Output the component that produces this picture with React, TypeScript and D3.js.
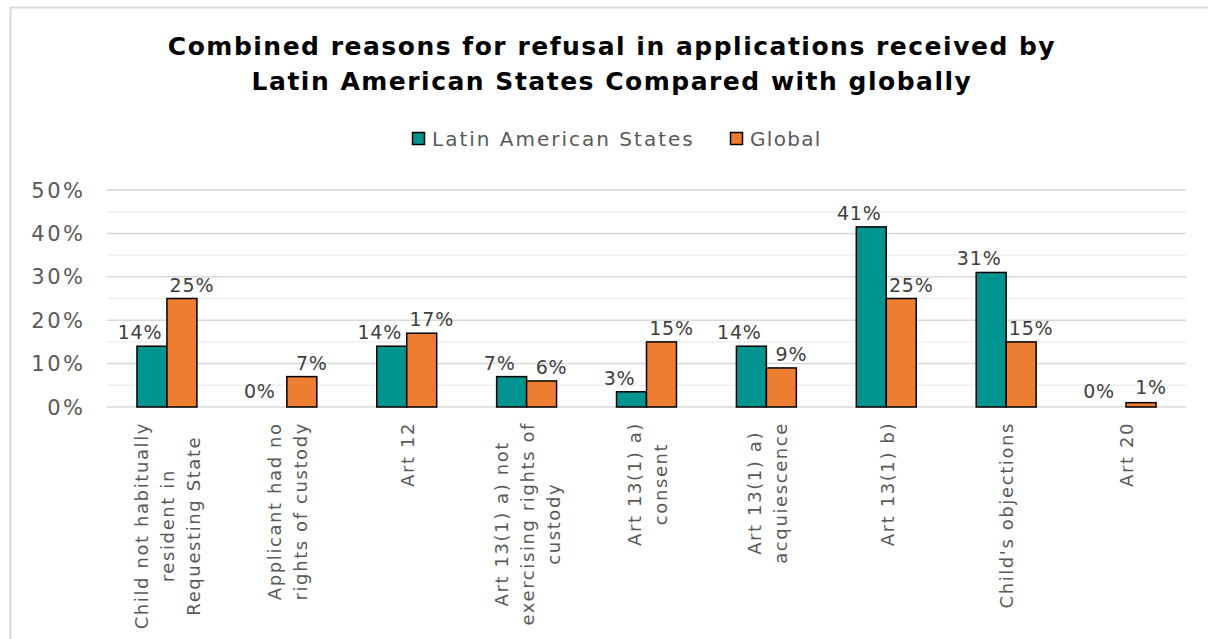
import React, { useEffect, useRef } from "react";
import * as d3 from "d3";

const categories = [
  "Child not habitually\nresident in\nRequesting State",
  "Applicant had no\nrights of custody",
  "Art 12",
  "Art 13(1) a) not\nexercising rights of\ncustody",
  "Art 13(1) a)\nconsent",
  "Art 13(1) a)\nacquiescence",
  "Art 13(1) b)",
  "Child's objections",
  "Art 20",
];
const latinAmerica = [0.14, 0, 0.14, 0.07, 0.035, 0.14, 0.415, 0.31, 0];
const latinLabels = ["14%", "0%", "14%", "7%", "3%", "14%", "41%", "31%", "0%"];
const globalValues = [0.25, 0.07, 0.17, 0.06, 0.15, 0.09, 0.25, 0.15, 0.01];
const globalLabels = ["25%", "7%", "17%", "6%", "15%", "9%", "25%", "15%", "1%"];
const seriesNames = ["Latin American States", "Global"];
const seriesColors = ["#009490", "#ED7D31"];
const majorTicks = [0, 0.1, 0.2, 0.3, 0.4, 0.5];
const minorTicks = [0.05, 0.15, 0.25, 0.35, 0.45];
const titleLines = [
  "Combined reasons for refusal in applications received by",
  "Latin American States Compared with globally",
];

const W = 1208;
const H = 639;
const FONT = "'DejaVu Sans', Verdana, sans-serif";

export default function App() {
  const ref = useRef<SVGSVGElement>(null);

  useEffect(() => {
    const svg = d3.select(ref.current);
    svg.selectAll("*").remove();

    const x0 = 107, x1 = 1186, yTop = 190, yBot = 407;
    const x = d3.scaleBand<number>().domain(d3.range(categories.length)).range([x0, x1]).paddingInner(0.5).paddingOuter(0.25);
    const xs = d3.scaleBand<number>().domain([0, 1]).range([0, x.bandwidth()]);
    const y = d3.scaleLinear().domain([0, 0.5]).range([yBot, yTop]);

    svg.append("rect").attr("x", 0).attr("y", 0).attr("width", W).attr("height", H).attr("fill", "#fff");
    svg.append("rect").attr("x", 10.5).attr("y", 7.5).attr("width", W + 20).attr("height", H + 20)
      .attr("fill", "none").attr("stroke", "#d9d9d9").attr("stroke-width", 2);

    // title
    svg.append("g").selectAll("text").data(titleLines).join("text")
      .attr("x", 612).attr("y", (_, i) => 55 + i * 35)
      .attr("text-anchor", "middle").attr("font-family", FONT).attr("font-weight", "bold")
      .attr("font-size", 25).attr("letter-spacing", 1.5).attr("fill", "#000").text(d => d);

    // legend
    const legendX = [412, 730];
    seriesNames.forEach((name, i) => {
      svg.append("rect").attr("x", legendX[i] + 0.5).attr("y", 132.5).attr("width", 12).attr("height", 12)
        .attr("fill", seriesColors[i]).attr("stroke", "#000").attr("stroke-width", 1.5);
      svg.append("text").attr("x", legendX[i] + 20).attr("y", 146)
        .attr("font-family", FONT).attr("font-size", 20).attr("letter-spacing", i === 0 ? 2.0 : 1.3)
        .attr("fill", "#595959").text(name);
    });

    // grid
    svg.append("g").selectAll("line.minor").data(minorTicks).join("line")
      .attr("x1", x0).attr("x2", x1).attr("y1", d => y(d)).attr("y2", d => y(d))
      .attr("stroke", "#efefef").attr("stroke-width", 1.5);
    svg.append("g").selectAll("line.major").data(majorTicks).join("line")
      .attr("x1", x0).attr("x2", x1).attr("y1", d => y(d)).attr("y2", d => y(d))
      .attr("stroke", "#d9d9d9").attr("stroke-width", 1.5);

    // y tick labels
    svg.append("g").selectAll("text").data(majorTicks).join("text")
      .attr("x", 85.5).attr("y", d => y(d)).attr("dy", "0.36em").attr("text-anchor", "end")
      .attr("font-family", FONT).attr("font-size", 21).attr("letter-spacing", 2.5)
      .attr("fill", "#595959").text(d => d3.format(".0%")(d));

    // bars
    const series = [latinAmerica, globalValues];
    const labels = [latinLabels, globalLabels];
    const labelOffsets = [-12, 10];
    series.forEach((vals, s) => {
      svg.append("g").selectAll("rect").data(vals).join("rect")
        .attr("x", (_, i) => (x(i) as number) + (xs(s) as number))
        .attr("y", d => y(d)).attr("width", xs.bandwidth()).attr("height", d => yBot - y(d))
        .attr("fill", seriesColors[s]).attr("stroke", d => (d > 0 ? "#000" : "none")).attr("stroke-width", 1.5);
      svg.append("g").selectAll("text").data(vals).join("text")
        .attr("x", (_, i) => (x(i) as number) + (xs(s) as number) + xs.bandwidth() / 2 + labelOffsets[s])
        .attr("y", d => y(d) - (d > 0.02 ? 7 : 9))
        .attr("text-anchor", "middle").attr("font-family", FONT).attr("font-size", 19).attr("letter-spacing", 0.8)
        .attr("fill", "#404040").text((_, i) => labels[s][i]);
    });

    // x category labels
    const lh = 26;
    categories.forEach((cat, i) => {
      const lines = cat.split("\n");
      const cx = (x(i) as number) + x.bandwidth() / 2 + 1;
      const g = svg.append("g").attr("transform", `translate(${cx},422) rotate(-90)`);
      const texts = g.selectAll("text").data(lines).join("text")
        .attr("y", (_, j) => (j - (lines.length - 1) / 2) * lh)
        .attr("dy", "0.35em").attr("text-anchor", "middle")
        .attr("font-family", FONT).attr("font-size", 18).attr("letter-spacing", 1.6)
        .attr("fill", "#595959").text(d => d);
      let maxW = 0;
      texts.each(function () {
        maxW = Math.max(maxW, (this as SVGTextElement).getComputedTextLength());
      });
      texts.attr("x", -maxW / 2);
    });
  }, []);

  return (
    <svg ref={ref} width={W} height={H} style={{ position: "absolute", left: 0, top: 0 }} />
  );
}
